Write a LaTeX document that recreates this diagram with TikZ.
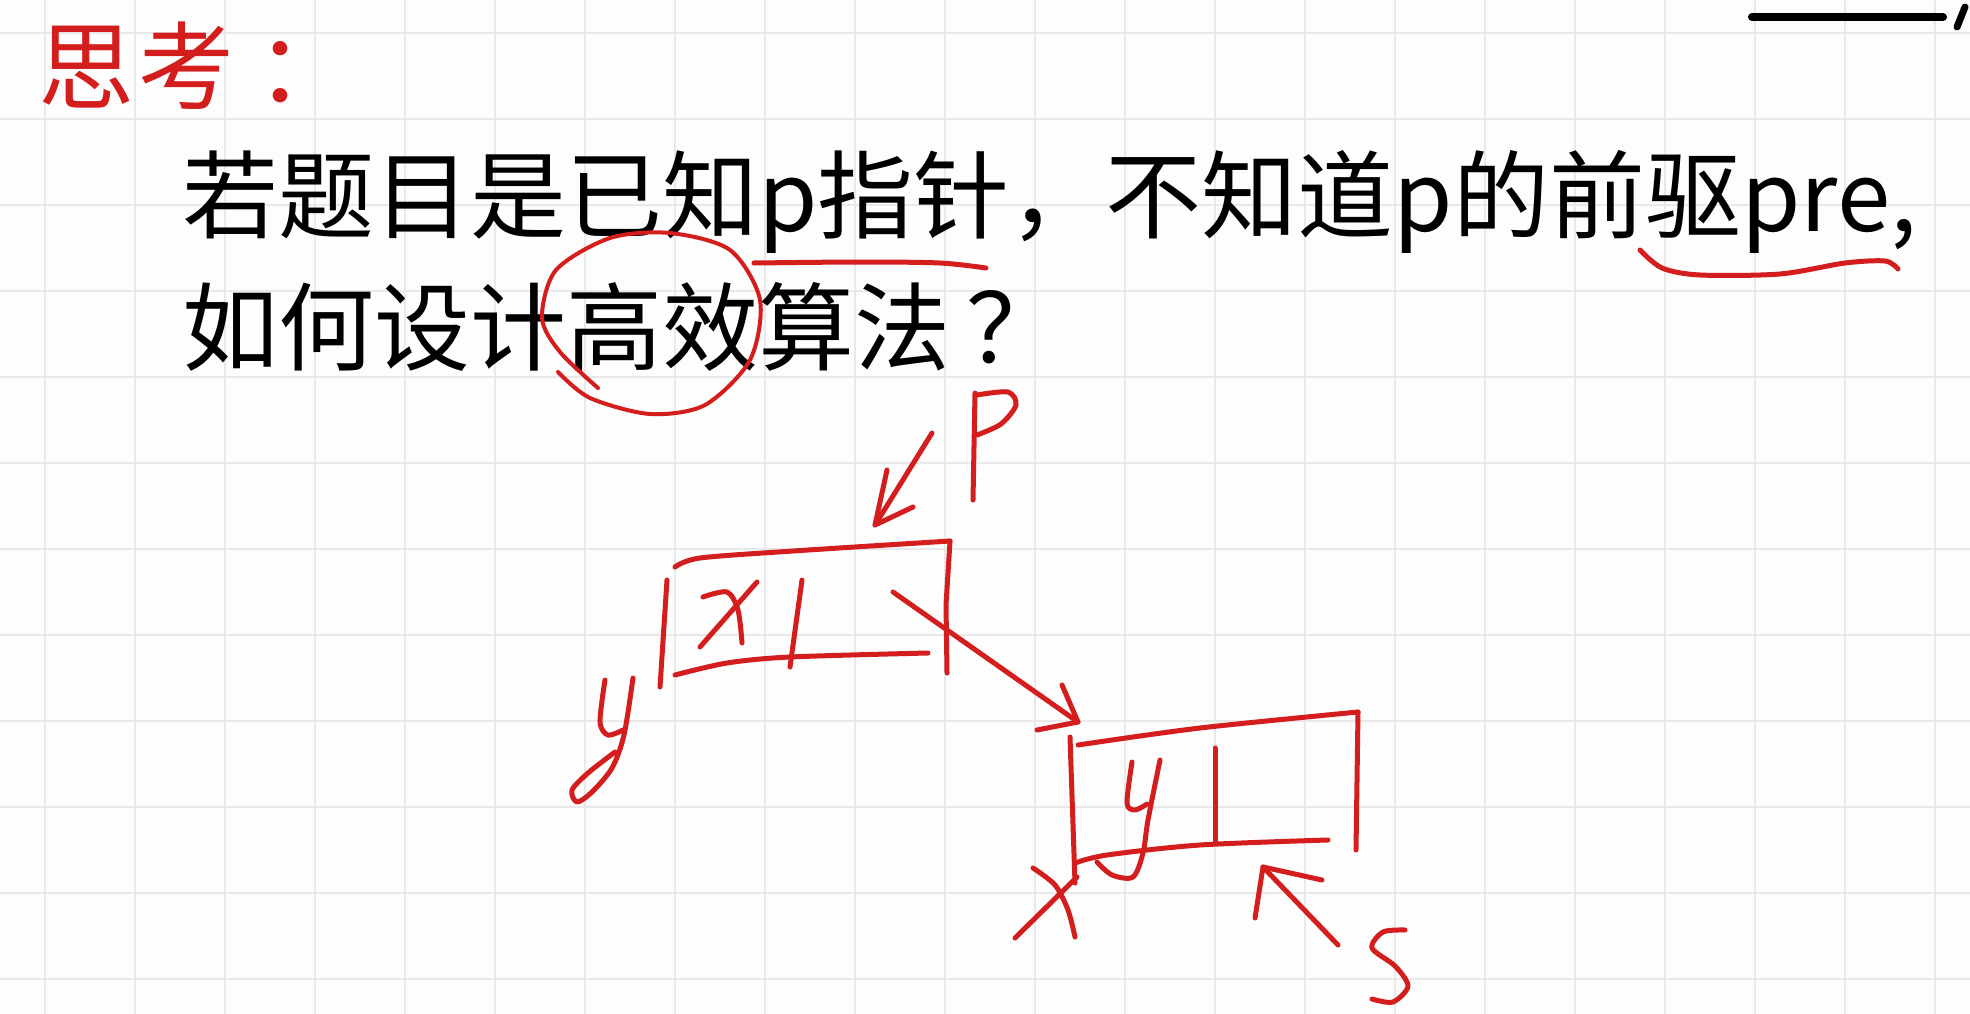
\documentclass[tikz,border=0pt]{standalone}
\usepackage{fontspec}
\newfontfamily\cjk{Noto Sans CJK SC}
\definecolor{ink}{RGB}{212,30,30}
\definecolor{gridc}{RGB}{233,233,233}
\definecolor{paper}{RGB}{253,253,253}
\begin{document}
\begin{tikzpicture}[x=1pt,y=-1pt,
  pen/.style={draw=ink, line width=5pt, line cap=round, line join=round},
  gridline/.style={draw=gridc, line width=2pt},
  txt/.style={inner sep=0pt, anchor=base west, font=\cjk\fontsize{96}{104}\selectfont},
  redtxt/.style={inner sep=0pt, anchor=base west, text=ink, font=\cjk\fontsize{96}{104}\selectfont}]
\fill[paper] (0,0) rectangle (1970,1014);
\useasboundingbox (0,0) rectangle (1970,1014);
% grid
\foreach \i in {0,...,21} \draw[gridline] ({45+90*\i},0) -- ({45+90*\i},1014);
\foreach \j in {0,...,11} \draw[gridline] (0,{33+86*\j}) -- (1970,{33+86*\j});
% top-right mark
\coordinate (mA) at (1752,17);
\coordinate (mB) at (1943,17);
\draw[black, line width=8pt, line cap=round] (mA) -- (mB);
\draw[black, line width=7pt, line cap=round] (1965,7) -- (1957,27);
% texts
\node[redtxt] (think) at (38,103) {思\hspace{4pt}考\hspace{22pt}：};
\node[txt] (line1) at (182,231) {若题目是已知p指针，不知道p的前驱pre,};
\node[txt] (line2) at (182,363) {如何设计高效算法\hspace{16pt}？};
% underlines
\draw[pen] plot[smooth] coordinates {(754,263) (860,262) (940,263) (986,268)};
\draw[pen] plot[smooth] coordinates {(1640,250) (1662,268) (1700,275) (1780,274) (1845,263) (1885,261) (1898,269)};
% circle around 高效
\draw[pen, line width=4pt] plot[smooth] coordinates {(598,388) (560,352) (542,318) (556,270) (610,238) (670,233) (730,250) (760,300) (750,360) (705,405) (650,414) (590,398) (558,372)};
% label P and its arrow
\draw[pen] (975,393) -- (973,500);
\draw[pen] plot[smooth] coordinates {(977,395) (1008,392) (1016,405) (1001,424) (977,435)};
\coordinate (pstart) at (932,433);
\coordinate (ptip) at (875,525);
\draw[pen] (pstart) -- (ptip);
\draw[pen] (887,470) -- (ptip) -- (913,507);
% box 1 (x)
\draw[pen] plot[smooth] coordinates {(675,567) (700,558) (793,551) (950,541)};
\draw[pen] (950,541) -- (946,605) -- (947,673);
\draw[pen] (667,580) -- (660,687);
\draw[pen] plot[smooth] coordinates {(675,675) (727,663) (790,657) (928,653)};
\draw[pen] (802,580) -- (790,667);
\draw[pen] plot[smooth] coordinates {(703,597) (727,592) (738,610) (742,643)};
\draw[pen] (757,582) -- (700,647);
% label y left of box 1
\draw[pen] plot[smooth] coordinates {(605,680) (600,722) (608,735) (623,730)};
\draw[pen] plot[smooth] coordinates {(633,678) (624,735) (612,768) (592,792) (577,802) (572,790) (588,773) (615,752)};
% arrow box1 -> box2
\coordinate (b1out) at (893,592);
\coordinate (b2in) at (1078,722);
\draw[pen] (b1out) -- (b2in);
\draw[pen] (1062,685) -- (b2in) -- (1037,730);
% box 2 (y)
\draw[pen] plot[smooth] coordinates {(1078,745) (1200,728) (1358,712)};
\draw[pen] (1358,712) -- (1356,850);
\draw[pen] (1070,737) -- (1075,883);
\draw[pen] plot[smooth] coordinates {(1075,863) (1107,855) (1200,845) (1328,840)};
\draw[pen] (1215,748) -- (1215,843);
\draw[pen] plot[smooth] coordinates {(1132,762) (1127,803) (1135,810) (1147,804)};
\draw[pen] plot[smooth] coordinates {(1160,760) (1148,820) (1143,853) (1133,877) (1112,875) (1097,862)};
% label x below-left of box 2
\draw[pen] plot[smooth] coordinates {(1033,868) (1055,885) (1068,910) (1075,937)};
\draw[pen] (1015,938) -- (1077,877);
% label S and its arrow
\coordinate (sstart) at (1338,945);
\coordinate (stip) at (1263,867);
\draw[pen] (sstart) -- (stip);
\draw[pen] (1255,918) -- (stip) -- (1322,880);
\draw[pen] plot[smooth] coordinates {(1405,930) (1383,932) (1372,948) (1395,966) (1408,986) (1393,1002) (1372,999)};
\end{tikzpicture}
\end{document}
